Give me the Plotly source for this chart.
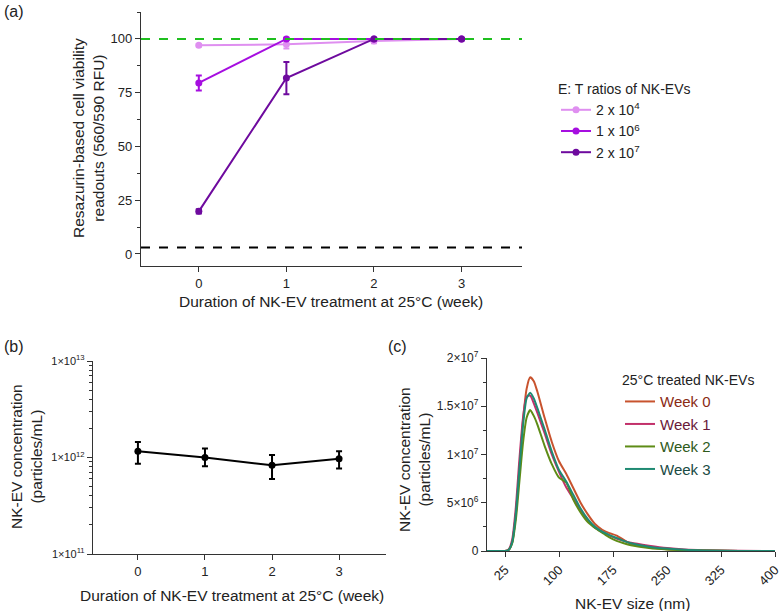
import plotly.graph_objects as go

# ---- panel (a): viability readouts ----
weeks = [0, 1, 2, 3]
ratio_names = ["2 x 10<sup>4</sup>", "1 x 10<sup>6</sup>", "2 x 10<sup>7</sup>"]
ratio_colors = ["#df8ff0", "#a60ee0", "#6e0a9e"]
viab_2e4 = [97.0, 97.5, 99.0, 100.0]
viab_2e4_err = [0.5, 2.0, 1.0, 0.0]
viab_1e6 = [79.5, 100.0, 100.0, 100.0]
viab_1e6_err = [3.5, 0.5, 0.0, 0.0]
viab_2e7 = [19.8, 81.8, 100.0, 100.0]
viab_2e7_err = [1.0, 7.5, 0.0, 0.0]
positive_ctrl = 100
negative_ctrl = 3

# ---- panel (b): concentration over time ----
conc = [1.16e12, 1.0e12, 0.83e12, 0.97e12]
conc_hi = [1.45e12, 1.24e12, 1.06e12, 1.16e12]
conc_lo = [0.86e12, 0.81e12, 0.60e12, 0.77e12]

# ---- panel (c): size distribution (values x1e6 particles/mL) ----
size_nm = [0, 20, 25, 30, 35, 40, 45, 50, 55, 60, 65, 70, 80, 90, 100, 110, 120,
           130, 140, 150, 160, 170, 180, 190, 200, 225, 250, 275, 300, 350, 400]
week0 = [0, 0, 0, 0.1, 0.9, 3.8, 8.5, 13.5, 16.8, 18.0, 17.6, 16.5, 13.8, 11.3, 9.3,
         8.0, 6.5, 5.0, 3.8, 2.8, 2.2, 1.85, 1.6, 1.15, 0.75, 0.38, 0.18, 0.1, 0.05, 0.01, 0]
week1 = [0, 0, 0, 0.15, 1.2, 4.5, 9.5, 13.8, 16.0, 16.1, 15.3, 14.3, 12.2, 10.0, 8.2,
         6.6, 5.4, 4.2, 3.2, 2.4, 1.95, 1.6, 1.3, 1.05, 0.85, 0.55, 0.3, 0.15, 0.08, 0.02, 0]
week2 = [0, 0, 0, 0.1, 0.8, 3.2, 7.2, 11.2, 13.8, 14.6, 14.0, 13.1, 10.9, 9.0, 7.6,
         7.1, 5.3, 4.0, 3.0, 2.4, 1.9, 1.4, 1.05, 0.8, 0.6, 0.3, 0.15, 0.08, 0.04, 0.01, 0]
week3 = [0, 0, 0, 0.1, 0.9, 3.8, 8.5, 13.0, 15.8, 16.4, 15.8, 14.8, 12.6, 10.3, 8.4,
         7.2, 5.8, 4.4, 3.3, 2.5, 2.0, 1.65, 1.35, 1.05, 0.8, 0.45, 0.25, 0.12, 0.06, 0.01, 0]
week_names = ["Week 0", "Week 1", "Week 2", "Week 3"]
week_colors = ["#c8532e", "#c2306a", "#5e8c16", "#1f8a72"]
week_text_colors = ["#8a2a14", "#6a1a3a", "#2f5a1a", "#1a4a44"]

FONT = "Liberation Sans, Arial, sans-serif"
INK = "#222222"
W, H = 780, 611


def px(x):
    return x / W


def py(y):
    return 1 - y / H


fig = go.Figure()

# panel (a)
for name, color, vals, errs in zip(ratio_names, ratio_colors,
                                   [viab_2e4, viab_1e6, viab_2e7],
                                   [viab_2e4_err, viab_1e6_err, viab_2e7_err]):
    fig.add_trace(go.Scatter(
        x=weeks, y=vals, name=name, mode="lines+markers",
        line=dict(color=color, width=2),
        marker=dict(color=color, size=7),
        error_y=dict(type="data", array=errs, color=color, thickness=2, width=3),
        xaxis="x", yaxis="y", legend="legend",
    ))

# panel (b)
fig.add_trace(go.Scatter(
    x=weeks, y=conc, mode="lines+markers", showlegend=False,
    line=dict(color="black", width=2),
    marker=dict(color="black", size=7),
    error_y=dict(type="data", symmetric=False,
                 array=[h - v for h, v in zip(conc_hi, conc)],
                 arrayminus=[v - l for v, l in zip(conc, conc_lo)],
                 color="black", thickness=2, width=3),
    xaxis="x2", yaxis="y2",
))

# panel (c)
for name, color, tcolor, vals in zip(week_names, week_colors, week_text_colors,
                                     [week0, week1, week2, week3]):
    fig.add_trace(go.Scatter(
        x=size_nm, y=[v * 1e6 for v in vals], mode="lines",
        name=f"<span style='color:{tcolor}'>{name}</span>",
        line=dict(color=color, width=2, shape="spline", smoothing=0.6),
        xaxis="x3", yaxis="y3", legend="legend2",
    ))

axis_common = dict(
    showline=True, linecolor="#333333", linewidth=1.3, ticks="outside",
    ticklen=5, tickwidth=1.3, tickcolor="#333333", showgrid=False, zeroline=False,
    automargin=False, ticklabeloverflow="allow",
    tickfont=dict(size=13, color=INK, family=FONT),
)
minor_common = dict(ticks="outside", ticklen=3, tickcolor="#333333", tickwidth=1.2)

fig.update_layout(
    width=W, height=H,
    margin=dict(l=0, r=0, t=0, b=0, autoexpand=False),
    paper_bgcolor="white", plot_bgcolor="white",
    font=dict(family=FONT, color=INK, size=14),
    xaxis=dict(domain=[px(141), px(522)], range=[-0.66, 3.69],
               tickvals=weeks, anchor="y", **axis_common),
    yaxis=dict(domain=[py(266), py(12)], range=[-5.6, 112.5],
               tickvals=[0, 25, 50, 75, 100], anchor="x",
               minor=dict(dtick=12.5, tick0=0, **minor_common),
               **axis_common),
    xaxis2=dict(domain=[px(93), px(386)], range=[-0.67, 3.7],
                tickvals=weeks, anchor="y2", **axis_common),
    yaxis2=dict(domain=[py(554), py(361)], type="log", range=[11, 13],
                tickvals=[1e11, 1e12, 1e13],
                ticktext=["1×10<sup>11</sup>", "1×10<sup>12</sup>", "1×10<sup>13</sup>"],
                anchor="x2",
                minor=dict(dtick="D1", **minor_common),
                **{**axis_common, "tickfont": dict(size=11, color=INK, family=FONT)}),
    xaxis3=dict(domain=[px(487), px(775)], range=[0, 400],
                tickvals=[25, 100, 175, 250, 325, 400], tickangle=-45,
                anchor="y3", **axis_common),
    yaxis3=dict(domain=[py(551), py(358)], range=[0, 2e7],
                tickvals=[0, 5e6, 1e7, 1.5e7, 2e7],
                ticktext=["0", "5×10<sup>6</sup>", "1×10<sup>7</sup>",
                          "1.5×10<sup>7</sup>", "2×10<sup>7</sup>"],
                anchor="x3",
                minor=dict(dtick=2.5e6, tick0=0, **minor_common),
                **{**axis_common, "tickfont": dict(size=12, color=INK, family=FONT)}),
    legend=dict(
        x=px(556), y=py(76), xanchor="left", yanchor="top",
        title=dict(text="E: T ratios of NK-EVs", font=dict(size=14)),
        font=dict(size=14), bgcolor="rgba(0,0,0,0)", tracegroupgap=0,
        itemwidth=30,
    ),
    legend2=dict(
        x=px(620), y=py(367), xanchor="left", yanchor="top",
        title=dict(text="25°C treated NK-EVs", font=dict(size=14)),
        font=dict(size=15), bgcolor="rgba(0,0,0,0)", tracegroupgap=0,
        itemwidth=30,
    ),
    showlegend=True,
)

# control reference lines in panel (a)
fig.add_shape(type="line", xref="x domain", yref="y", x0=0, x1=1,
              y0=positive_ctrl, y1=positive_ctrl,
              line=dict(color="#1fbf1f", width=2, dash="dash"))
fig.add_shape(type="line", xref="x domain", yref="y", x0=0, x1=1,
              y0=negative_ctrl, y1=negative_ctrl,
              line=dict(color="black", width=2, dash="dash"))


# axis titles and panel labels
def note(text, x, y, angle=0, size=15.5, anchor="center"):
    fig.add_annotation(text=text, x=px(x), y=py(y), xref="paper", yref="paper",
                       showarrow=False, textangle=angle, xanchor=anchor,
                       yanchor="middle",
                       font=dict(size=size, color=INK, family=FONT))


note("Resazurin-based cell viability<br>readouts (560/590 RFU)", 88, 138, angle=-90)
note("Duration of NK-EV treatment at 25°C (week)", 331, 302)
note("NK-EV concentration<br>(particles/mL)", 26, 457, angle=-90)
note("Duration of NK-EV treatment at 25°C (week)", 232, 595)
note("NK-EV concentration<br>(particles/mL)", 414, 460, angle=-90)
note("NK-EV size (nm)", 632, 603)
note("(a)", 2, 12, size=16, anchor="left")
note("(b)", 2, 346, size=16, anchor="left")
note("(c)", 386, 346, size=16, anchor="left")

# drop the default page margin so the figure sits at the window's corner
fig.write_html("out.html", config={"displayModeBar": False},
               post_script="document.body.style.margin = '0';")
